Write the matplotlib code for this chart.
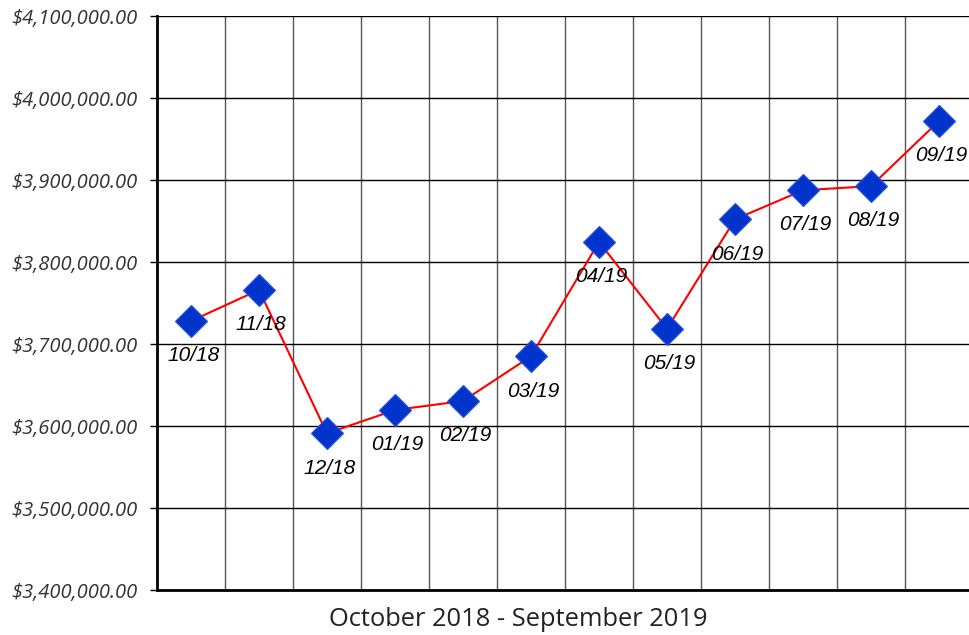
import matplotlib.pyplot as plt
from matplotlib.ticker import FuncFormatter, MultipleLocator

months = ["10/18", "11/18", "12/18", "01/19", "02/19", "03/19",
          "04/19", "05/19", "06/19", "07/19", "08/19", "09/19"]
values = [3728000, 3766000, 3591000, 3619500, 3630500, 3685000,
          3824500, 3718500, 3852000, 3887500, 3892500, 3972000]

fig = plt.figure(figsize=(9.69, 6.35), dpi=100)
ax = fig.add_axes([157 / 969, 45 / 635, 816 / 969, 574 / 635])

x = list(range(len(months)))
ax.plot(x, values, color="red", linewidth=1.5, zorder=3)
ax.scatter(x, values, marker="D", s=260, color="#0033cc",
           edgecolors="#1f4fd8", linewidths=1, zorder=4)

for xi, v, lab in zip(x, values, months):
    ax.annotate(lab, (xi, v), xytext=(1.5, -25), textcoords="offset points",
                ha="center", va="center", fontsize=15, style="italic",
                family="Liberation Sans", zorder=5)

ax.set_xlim(-0.5, 11.5)
ax.set_ylim(3400000, 4100000)
ax.yaxis.set_major_locator(MultipleLocator(100000))
ax.yaxis.set_major_formatter(FuncFormatter(lambda v, p: f"${v:,.2f}"))
ax.set_xticks([])
ax.set_xticks([i + 0.5 for i in range(11)], minor=True)
ax.tick_params(axis="x", which="minor", length=0)
ax.tick_params(axis="y", length=5, width=1, color="black", pad=9)

for t in ax.get_yticklabels():
    t.set_fontfamily("Open Sans")
    t.set_fontstyle("italic")
    t.set_fontsize(14.5)
    t.set_color("#333333")

ax.grid(axis="y", which="major", color="black", linewidth=1)
ax.grid(axis="x", which="minor", color="#555555", linewidth=1)
ax.set_axisbelow(True)

ax.spines["top"].set_visible(False)
ax.spines["right"].set_visible(False)
ax.spines["left"].set_linewidth(2)
ax.spines["bottom"].set_linewidth(2)

fig.text(518 / 969, 1 - 620 / 635, "October 2018 - September 2019",
         ha="center", va="center", fontsize=18.4, family="Open Sans",
         color="#222222")

fig.savefig("out.png", dpi=100)
